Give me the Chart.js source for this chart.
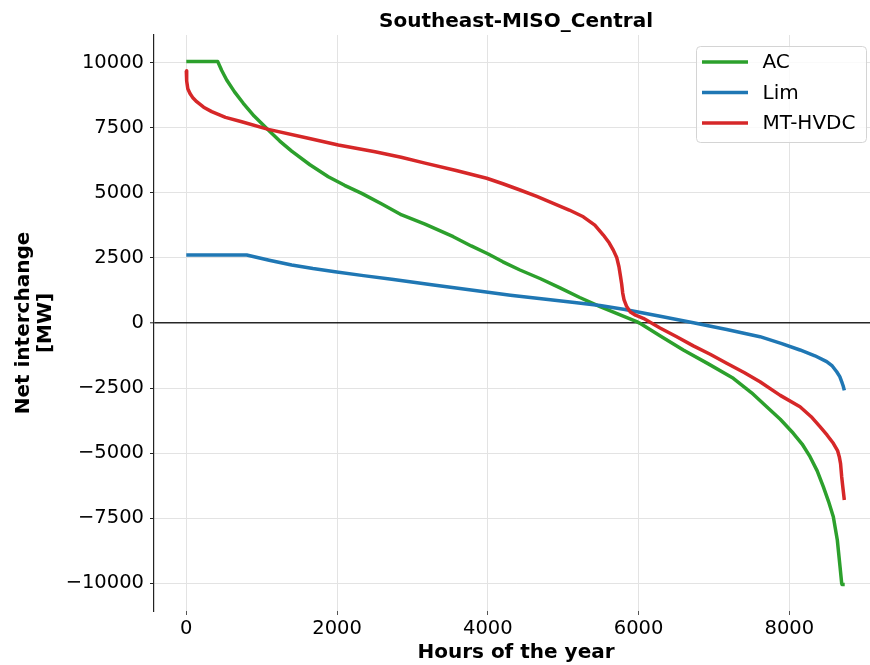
<!DOCTYPE html>
<html><head><meta charset="utf-8">
<script src="https://cdn.jsdelivr.net/npm/chart.js@4.4.1/dist/chart.umd.min.js"></script>
<style>html,body{margin:0;padding:0;background:#fff;overflow:hidden}#wrap{width:870px;height:665px;overflow:hidden;position:relative;background:#fff}canvas{display:block}</style>
</head><body><div id="wrap"><canvas id="c" width="878" height="665"></canvas></div>
<script>
const chartTitle = 'Southeast-MISO_Central';
const xAxisTitle = 'Hours of the year';
const yAxisTitle = ['Net interchange', '[MW]'];
const seriesNames = ['AC', 'Lim', 'MT-HVDC'];
const seriesColors = ['#2ca02c', '#1f77b4', '#d62728'];

const acHours  = [0, 416, 470, 536, 640, 756, 900, 1088, 1240, 1398, 1640, 1884, 2100, 2327, 2600, 2858, 3167, 3542, 3780, 4006, 4200, 4427, 4700, 4958, 5220, 5489, 5740, 5975, 6019, 6300, 6594, 6920, 7257, 7500, 7700, 7880, 8053, 8170, 8275, 8370, 8451, 8520, 8584, 8637, 8673, 8695, 8700, 8735];
const acValues = [10050, 10050, 9700, 9335, 8880, 8440, 7950, 7415, 6990, 6600, 6080, 5620, 5290, 4980, 4560, 4150, 3800, 3316, 2960, 2650, 2350, 2036, 1700, 1350, 980, 626, 330, 50, -12, -520, -1037, -1560, -2124, -2680, -3216, -3700, -4237, -4650, -5136, -5680, -6289, -6850, -7442, -8336, -9362, -10000, -10050, -10050];

const limHours  = [0, 801, 1100, 1398, 1680, 1973, 2350, 2725, 3280, 3830, 4300, 4800, 5150, 5489, 5820, 6270, 6727, 7170, 7611, 7900, 8142, 8340, 8496, 8570, 8629, 8670, 8695, 8715, 8730];
const limValues = [2612, 2612, 2410, 2228, 2090, 1971, 1820, 1679, 1460, 1250, 1070, 900, 790, 670, 520, 270, 12, -250, -526, -790, -1037, -1260, -1486, -1650, -1871, -2060, -2255, -2420, -2590];

const mtHours  = [0, 5, 20, 49, 90, 138, 230, 337, 520, 735, 1088, 1619, 2016, 2504, 2850, 3167, 3580, 3985, 4200, 4427, 4650, 4869, 5080, 5267, 5420, 5533, 5610, 5665, 5710, 5740, 5760, 5776, 5790, 5807, 5840, 5887, 5960, 6063, 6285, 6500, 6727, 6950, 7169, 7400, 7611, 7880, 8142, 8290, 8407, 8500, 8584, 8640, 8663, 8680, 8695, 8710, 8730];
const mtValues = [9690, 9300, 9000, 8820, 8640, 8500, 8290, 8120, 7900, 7730, 7440, 7100, 6840, 6580, 6370, 6140, 5860, 5560, 5350, 5110, 4860, 4600, 4340, 4080, 3760, 3380, 3080, 2800, 2520, 2160, 1800, 1500, 1150, 900, 650, 435, 300, 180, -190, -520, -880, -1200, -1548, -1900, -2255, -2780, -3216, -3600, -3984, -4300, -4622, -4900, -5136, -5400, -5905, -6300, -6800];

const xTickValues = [0, 2000, 4000, 6000, 8000];
const xTickLabels = ['0', '2000', '4000', '6000', '8000'];
const yTickValues = [-10000, -7500, -5000, -2500, 0, 2500, 5000, 7500, 10000];
const yTickLabels = ['\u221210000', '\u22127500', '\u22125000', '\u22122500', '0', '2500', '5000', '7500', '10000'];

const FONT = "'DejaVu Sans', sans-serif";
function pts(h, v) { return h.map((x, i) => ({x: x, y: v[i]})); }

const overlay = {
  id: 'overlay',
  afterDraw(chart) {
    const ctx = chart.ctx, ca = chart.chartArea;
    ctx.save();
    ctx.fillStyle = '#000';
    ctx.font = "bold 20px " + FONT;
    ctx.textAlign = 'center';
    ctx.textBaseline = 'alphabetic';
    ctx.fillText(chartTitle, (ca.left + ca.right) / 2, 27);
    const bx = 696.5, by = 46.5, bw = 170, bh = 96;
    ctx.beginPath();
    ctx.roundRect(bx, by, bw, bh, 4);
    ctx.fillStyle = 'rgba(255,255,255,0.8)';
    ctx.fill();
    ctx.strokeStyle = '#d4d4d4';
    ctx.lineWidth = 1;
    ctx.stroke();
    const ys = [62, 92.5, 123];
    ctx.font = "20px " + FONT;
    ctx.textAlign = 'left';
    ctx.textBaseline = 'middle';
    for (let i = 0; i < seriesNames.length; i++) {
      ctx.beginPath();
      ctx.moveTo(702, ys[i]);
      ctx.lineTo(748, ys[i]);
      ctx.strokeStyle = seriesColors[i];
      ctx.lineWidth = 3.5;
      ctx.stroke();
      ctx.fillStyle = '#000';
      ctx.fillText(seriesNames[i], 762.5, ys[i] + 1);
    }
    ctx.restore();
  }
};

const ds = (i, h, v, order) => ({
  label: seriesNames[i], data: pts(h, v), borderColor: seriesColors[i], backgroundColor: seriesColors[i],
  borderWidth: 3.5, pointRadius: 0, pointHoverRadius: 0, tension: 0, fill: false, order: order,
  borderJoinStyle: 'round', borderCapStyle: 'butt'
});

new Chart(document.getElementById('c').getContext('2d'), {
  type: 'line',
  data: { datasets: [ ds(0, acHours, acValues, 2), ds(1, limHours, limValues, 1), ds(2, mtHours, mtValues, 0) ] },
  options: {
    responsive: false, animation: false, devicePixelRatio: 1,
    layout: { padding: { top: 35, left: 0, right: 0, bottom: 0 } },
    plugins: { legend: { display: false }, tooltip: { enabled: false }, title: { display: false } },
    scales: {
      x: {
        type: 'linear', min: -428.5, max: 9176.8,
        afterBuildTicks(s) { s.ticks = xTickValues.map(v => ({value: v})); },
        afterFit(s) { s.height = 54; },
        ticks: {
          autoSkip: false, maxRotation: 0, padding: 2, color: '#000',
          font: { family: FONT, size: 19.5 },
          callback: (v) => { const i = xTickValues.indexOf(v); return i >= 0 ? xTickLabels[i] : ''; }
        },
        grid: { color: '#e3e3e3', lineWidth: 1, drawTicks: true, tickLength: 4, tickColor: '#555', tickWidth: 1 },
        border: { display: false },
        title: { display: true, text: xAxisTitle, color: '#000', font: { family: FONT, size: 20, weight: 'bold', lineHeight: 1.2 }, padding: { top: 0, bottom: 0 } }
      },
      y: {
        type: 'linear', min: -11064, max: 11064,
        afterBuildTicks(s) { s.ticks = yTickValues.map(v => ({value: v})); },
        afterFit(s) { s.width = 154; },
        ticks: {
          autoSkip: false, padding: 6, color: '#000',
          font: { family: FONT, size: 19.5 },
          callback: (v) => { const i = yTickValues.indexOf(v); return i >= 0 ? yTickLabels[i] : ''; }
        },
        grid: {
          color: (c) => (c.tick && c.tick.value === 0) ? 'rgba(0,0,0,0.85)' : '#e3e3e3',
          lineWidth: (c) => (c.tick && c.tick.value === 0) ? 1.6 : 1,
          drawTicks: true, tickLength: 4, tickColor: '#222', tickWidth: 1
        },
        border: { display: true, color: '#222', width: 1.2 },
        title: { display: true, text: yAxisTitle, color: '#000', font: { family: FONT, size: 20, weight: 'bold', lineHeight: 1.1 }, padding: { top: 13, bottom: 0 } }
      }
    }
  },
  plugins: [overlay]
});
</script></body></html>
